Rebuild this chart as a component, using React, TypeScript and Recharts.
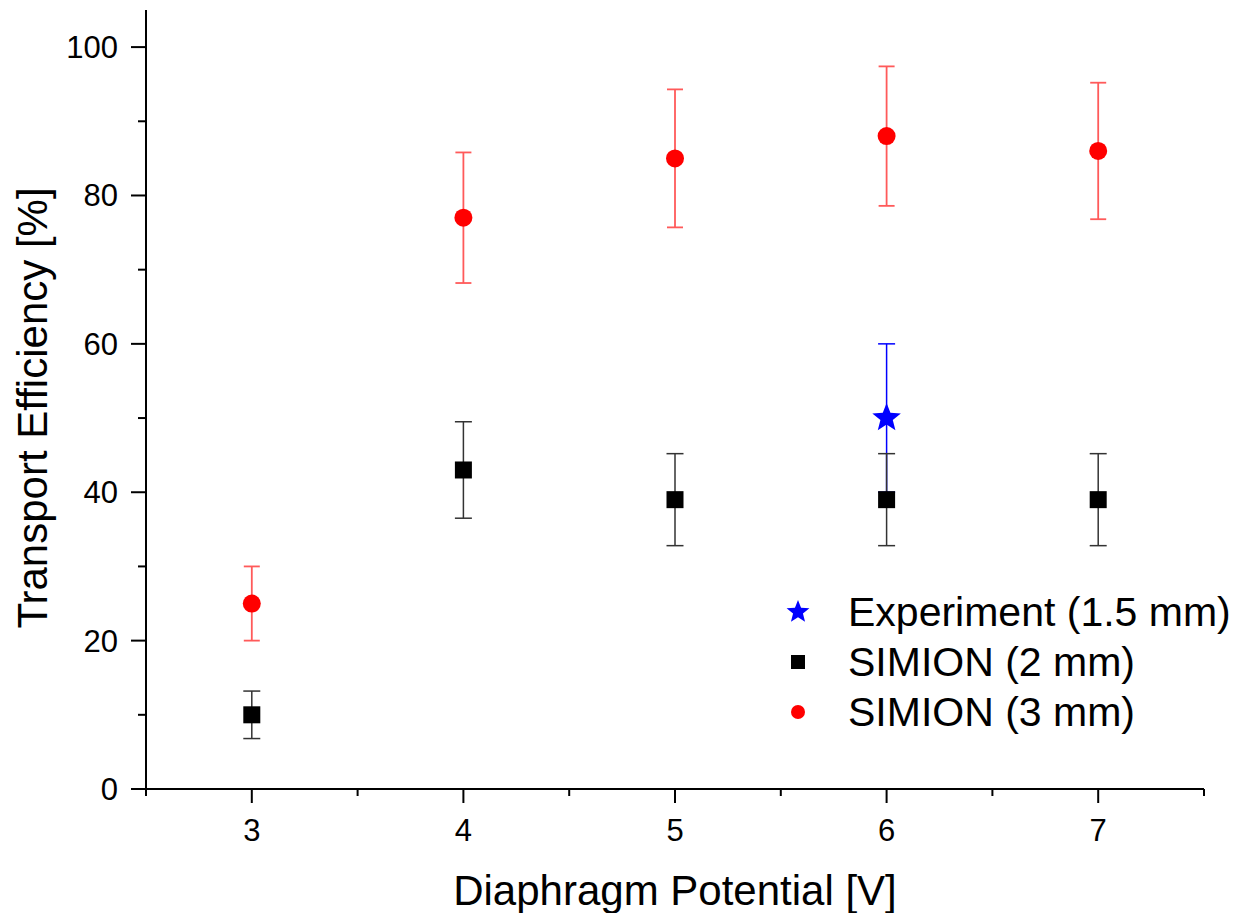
import React from 'react';
import { ScatterChart, Scatter, XAxis, YAxis, ErrorBar } from 'recharts';

const potentials = [3, 4, 5, 6, 7];
const sim2mmValues = [10, 43, 39, 39, 39];
const sim2mmErrors = [3.2, 6.5, 6.2, 6.2, 6.2];
const sim3mmValues = [25, 77, 85, 88, 86];
const sim3mmErrors = [5, 8.8, 9.3, 9.4, 9.2];
const experimentPotentials = [6];
const experimentValues = [50];
const experimentErrors = [10];

const xTicks = [2.5, 3, 3.5, 4, 4.5, 5, 5.5, 6, 6.5, 7, 7.5];
const yTicks = [0, 10, 20, 30, 40, 50, 60, 70, 80, 90, 100];

const seriesNames = ['Experiment (1.5 mm)', 'SIMION (2 mm)', 'SIMION (3 mm)'];

const FONT = '"Liberation Sans", Arial, sans-serif';

const sim2mm = potentials.map((x, i) => ({ x, y: sim2mmValues[i], err: sim2mmErrors[i] }));
const sim3mm = potentials.map((x, i) => ({ x, y: sim3mmValues[i], err: sim3mmErrors[i] }));
const experiment = experimentPotentials.map((x, i) => ({ x, y: experimentValues[i], err: experimentErrors[i] }));

const starPath = (cx: number, cy: number, R: number, r: number) => {
  const pts: string[] = [];
  for (let i = 0; i < 10; i++) {
    const rad = i % 2 === 0 ? R : r;
    const a = -Math.PI / 2 + (i * Math.PI) / 5;
    pts.push(`${cx + rad * Math.cos(a)},${cy + rad * Math.sin(a)}`);
  }
  return `M${pts.join('L')}Z`;
};

const StarShape = (props: any) => {
  const { cx, cy } = props;
  return <path d={starPath(cx, cy, 15, 6.5)} fill="#0000ff" />;
};
const SquareShape = (props: any) => {
  const { cx, cy } = props;
  return <rect x={cx - 8.5} y={cy - 8.5} width={17} height={17} fill="#000" />;
};
const CircleShape = (props: any) => {
  const { cx, cy } = props;
  return <circle cx={cx} cy={cy} r={9} fill="#ff0000" />;
};

const XTick = (props: any) => {
  const { x, y, payload } = props;
  const major = Number.isInteger(payload.value);
  return (
    <g>
      <line x1={x} y1={y} x2={x} y2={y + (major ? 14 : 7)} stroke="#000" strokeWidth={2} />
      {major && (
        <text x={x} y={y + 52} textAnchor="middle" fontSize={31} fontFamily={FONT} fill="#000">
          {payload.value}
        </text>
      )}
    </g>
  );
};

const YTick = (props: any) => {
  const { x, y, payload } = props;
  const major = payload.value % 20 === 0;
  return (
    <g>
      <line x1={x} y1={y} x2={x - (major ? 15 : 8)} y2={y} stroke="#000" strokeWidth={2} />
      {major && (
        <text x={x - 28} y={y + 11} textAnchor="end" fontSize={31} fontFamily={FONT} fill="#000">
          {payload.value}
        </text>
      )}
    </g>
  );
};

const XLabel = (props: any) => {
  const { viewBox } = props;
  return (
    <text x={viewBox.x + viewBox.width / 2} y={viewBox.y + 116} textAnchor="middle" fontSize={42} fontFamily={FONT} fill="#000">
      Diaphragm Potential [V]
    </text>
  );
};

const YLabel = () => {
  const cx = 39;
  const cy = 400;
  return (
    <text x={cx} y={cy} transform={`rotate(-90, ${cx}, ${cy})`} textAnchor="middle" fontSize={42} fontFamily={FONT} fill="#000">
      Transport Efficiency [%]
    </text>
  );
};

const LegendBox = () => {
  const rowH = 50;
  return (
    <svg width={470} height={160} style={{ position: 'absolute', left: 752, top: 574, overflow: 'visible' }}>
      {seriesNames.map((name, i) => {
        const cy = 30 + i * rowH;
        let marker;
        if (i === 0) marker = <path d={starPath(38, cy, 12, 5.2)} fill="#0000ff" />;
        else if (i === 1) marker = <rect x={31} y={cy - 7} width={14} height={14} fill="#000" />;
        else marker = <circle cx={38} cy={cy} r={7} fill="#ff0000" />;
        return (
          <g key={name}>
            {marker}
            <text x={88} y={cy + 14} fontSize={41} fontFamily={FONT} fill="#000">
              {name}
            </text>
          </g>
        );
      })}
    </svg>
  );
};

export default function App() {
  return (
    <div style={{ position: 'relative', width: 1229, height: 905, background: '#fff' }}>
      <ScatterChart width={1229} height={905} margin={{ top: 2, right: 33, bottom: 0, left: 0 }}>
        <XAxis
          type="number"
          dataKey="x"
          domain={[2.5, 7.5]}
          ticks={xTicks}
          interval={0}
          allowDataOverflow
          height={124}
          tickSize={0}
          tickMargin={0}
          tickLine={false}
          tick={<XTick />}
          axisLine={{ stroke: '#000', strokeWidth: 2 }}
          label={<XLabel />}
        />
        <YAxis
          type="number"
          dataKey="y"
          domain={[0, 105]}
          ticks={yTicks}
          interval={0}
          allowDataOverflow
          width={138}
          tickSize={0}
          tickMargin={0}
          tickLine={false}
          tick={<YTick />}
          axisLine={{ stroke: '#000', strokeWidth: 2 }}
          label={<YLabel />}
        />
        <Scatter name={seriesNames[0]} data={experiment} shape={<StarShape />} isAnimationActive={false}>
          <ErrorBar dataKey="err" direction="y" width={8.5} stroke="#0000ff" strokeWidth={1.5} />
        </Scatter>
        <Scatter name={seriesNames[1]} data={sim2mm} shape={<SquareShape />} isAnimationActive={false}>
          <ErrorBar dataKey="err" direction="y" width={8.5} stroke="#333" strokeWidth={1.5} />
        </Scatter>
        <Scatter name={seriesNames[2]} data={sim3mm} shape={<CircleShape />} isAnimationActive={false}>
          <ErrorBar dataKey="err" direction="y" width={8} stroke="#ff5a5a" strokeWidth={1.8} />
        </Scatter>
      </ScatterChart>
      <LegendBox />
    </div>
  );
}
